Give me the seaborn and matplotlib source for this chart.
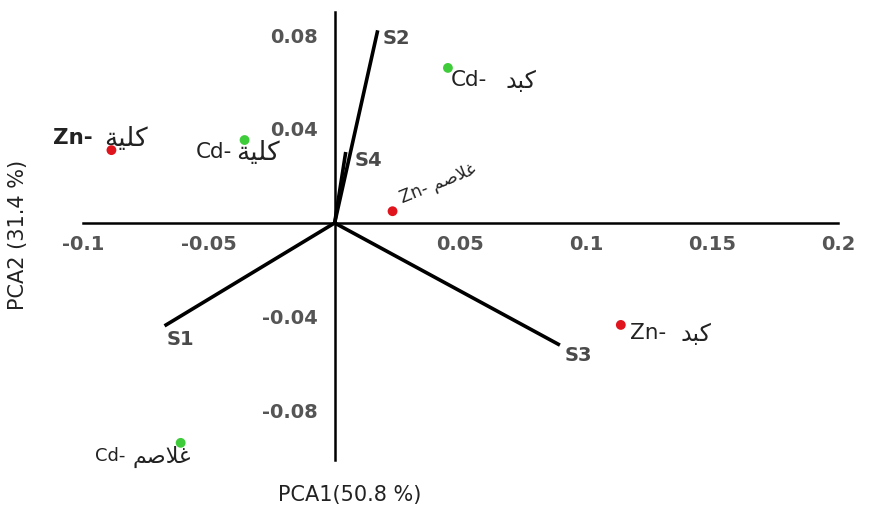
import numpy as np
import pandas as pd
import matplotlib
matplotlib.use('Agg')
import matplotlib.pyplot as plt
import seaborn as sns

sns.set_style('white')
plt.rcParams['font.family'] = ['DejaVu Sans']

# Arabic words written with presentation forms in visual (left-to-right) order
KIDNEY = '\uFE94\uFEF4\uFEE0\uFEDB'   # كلية
LIVER = '\uFEAA\uFE92\uFEDB'          # كبد
GILLS = '\uFEE2\uFEBB\uFEFC\uFECF'    # غلاصم

# ---- data ----
metal = ['Zn', 'Cd', 'Cd', 'Zn', 'Zn', 'Cd']
organ = [KIDNEY, KIDNEY, LIVER, GILLS, LIVER, GILLS]
pc1 = [-0.0887, -0.0358, 0.0450, 0.0230, 0.1137, -0.0612]
pc2 = [0.0310, 0.0353, 0.0660, 0.0050, -0.0434, -0.0936]

var_names = ['S1', 'S2', 'S3', 'S4']
load1 = [-0.0676, 0.0171, 0.0895, 0.0044]
load2 = [-0.0438, 0.0820, -0.0520, 0.0302]

x_ticks = [-0.1, -0.05, 0.05, 0.1, 0.15, 0.2]
x_ticklabels = ['-0.1', '-0.05', '0.05', '0.1', '0.15', '0.2']
y_ticks = [0.08, 0.04, -0.04, -0.08]
y_ticklabels = ['0.08', '0.04', '-0.04', '-0.08']

xlabel = 'PCA1(50.8 %)'
ylabel = 'PCA2 (31.4 %)'

# ---- layout ----
# (offset x px, offset y px of latin part centre-left, gap px, latin size, arabic size, weight, rotation)
sample_layout = [
    (-58, 12, 11, 15.5, 19, 'bold', 0),
    (-49, -12, 4, 15.5, 19, 'normal', 0),
    (3, -12, 18, 15.5, 17, 'normal', 0),
    (11, 4, 0, 12.5, 0, 'normal', 22),
    (9, -8, 15, 15.5, 17, 'normal', 0),
    (-86, -13, 7, 13, 16, 'normal', 0),
]
var_offsets = [(2, -14), (5, -8), (5, -10), (9, -8)]

df = pd.DataFrame({'pc1': pc1, 'pc2': pc2, 'metal': metal})

W, H = 876, 512
fig = plt.figure(figsize=(W / 100, H / 100), dpi=100)
ax = fig.add_axes([83 / W, 1 - 460 / H, (838 - 83) / W, (460 - 12) / H])
ax.set_xlim(-0.1, 0.2)
ax.set_ylim(-0.1009, 0.0898)

# loadings
for name, lx, ly, (ox, oy) in zip(var_names, load1, load2, var_offsets):
    ax.plot([0, lx], [0, ly], color='black', lw=2.6, solid_capstyle='butt', zorder=3)
    ax.annotate(name, (lx, ly), xytext=(ox, oy), textcoords='offset pixels',
                ha='left', va='center', fontsize=14, fontweight='bold',
                color='#4a4a4a', annotation_clip=False)

sns.scatterplot(data=df, x='pc1', y='pc2', hue='metal',
                palette={'Zn': '#e0141c', 'Cd': '#3fcc3a'},
                s=50, edgecolor='none', legend=False, ax=ax, zorder=4)

for m, org, x, y, lay in zip(metal, organ, pc1, pc2, sample_layout):
    ox, oy, gap, ls, asz, wt, rot = lay
    if rot != 0:
        ax.annotate(m + '- ' + org, (x, y), xytext=(ox, oy), textcoords='offset pixels',
                    ha='left', va='bottom', rotation=rot, rotation_mode='anchor',
                    fontsize=ls, color='#222222', annotation_clip=False)
        continue
    lt = ax.annotate(m + '-', (x, y), xytext=(ox, oy), textcoords='offset pixels',
                     ha='left', va='center', fontsize=ls, fontweight=wt,
                     color='#222222', annotation_clip=False)
    ax.annotate(org, xy=(1, 0.45), xycoords=lt, xytext=(gap, 0),
                textcoords='offset pixels', ha='left', va='center',
                fontsize=asz, color='#222222', annotation_clip=False)

# spines through origin
for s in ['top', 'right']:
    ax.spines[s].set_visible(False)
ax.spines['left'].set_position(('data', 0))
ax.spines['bottom'].set_position(('data', 0))
for s in ['left', 'bottom']:
    ax.spines[s].set_linewidth(1.8)
    ax.spines[s].set_color('black')

ax.set_xticks(x_ticks)
ax.set_xticklabels(x_ticklabels)
ax.set_yticks(y_ticks)
ax.set_yticklabels(y_ticklabels)
ax.tick_params(axis='x', direction='out', length=6, width=1.8, pad=3,
               labelsize=14, labelcolor='#555555')
ax.tick_params(axis='y', direction='out', length=9, width=1.8, pad=3,
               labelsize=14, labelcolor='#555555')
for t in ax.get_xticklabels() + ax.get_yticklabels():
    t.set_fontweight('bold')
ax.set_xlabel('')
ax.set_ylabel('')

fig.text(350 / W, 1 - 495 / H, xlabel, ha='center', va='center',
         fontsize=15, color='#222222')
fig.text(18 / W, 1 - 235 / H, ylabel, ha='center', va='center',
         rotation=90, fontsize=15, color='#222222')

fig.savefig('out.png', dpi=100)
